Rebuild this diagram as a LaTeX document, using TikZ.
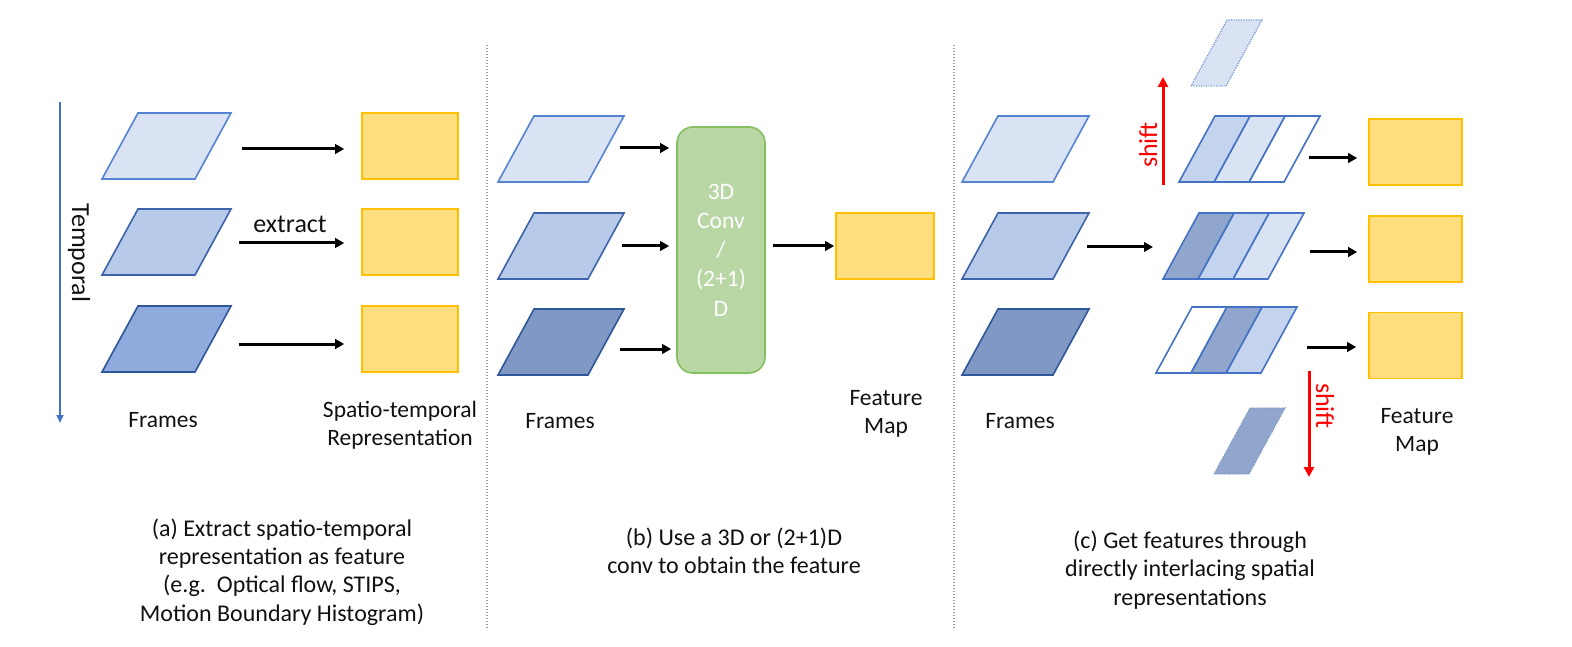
\documentclass[tikz,border=0pt]{standalone}
\usepackage{fontspec}
\setmainfont{Carlito}
\usetikzlibrary{arrows.meta,calc}
\definecolor{fLfill}{HTML}{DAE3F3}
\definecolor{fLdraw}{HTML}{5585D2}
\definecolor{fMfill}{HTML}{B8CAE9}
\definecolor{fMdraw}{HTML}{3E63AA}
\definecolor{fDafill}{HTML}{8FAADC}
\definecolor{fDbfill}{HTML}{8099C4}
\definecolor{fDdraw}{HTML}{30569A}
\definecolor{sMfill}{HTML}{C5D4EE}
\definecolor{sDfill}{HTML}{91A6CC}
\definecolor{sdraw}{HTML}{4472C4}
\definecolor{ghostL}{HTML}{7497D6}
\definecolor{ghostD}{HTML}{7F98C6}
\definecolor{yfill}{HTML}{FFDE80}
\definecolor{ydraw}{HTML}{FFC000}
\definecolor{gfill}{HTML}{B9D6A5}
\definecolor{gdraw}{HTML}{84BE5E}
\definecolor{tblue}{HTML}{4472C4}
\definecolor{sepgray}{HTML}{9A9A9A}
\definecolor{txt}{HTML}{111111}
\newcommand\pgm[5][]{%
  \draw[#1] (#3,#4+66) -- ++(#5,0) -- ++(36,-66) -- ++(-#5,0) -- cycle;
  \node[anchorbox, minimum width=#5+36, minimum height=66] (#2) at (#3+18+#5/2,#4+33) {};
}
\newcommand\stripe[3][]{%
  \draw[#1] (#2,#3+66) -- ++(35,0) -- ++(36,-66) -- ++(-35,0) -- cycle;
}
\begin{document}
\begin{tikzpicture}[x=1pt,y=-1pt,
  anchorbox/.style={inner sep=0pt, outer sep=0pt},
  frameL/.style={fill=fLfill, draw=fLdraw, line width=1.6pt, line join=miter},
  frameM/.style={fill=fMfill, draw=fMdraw, line width=1.6pt},
  frameDa/.style={fill=fDafill, draw=fDdraw, line width=1.6pt},
  frameDb/.style={fill=fDbfill, draw=fDdraw, line width=1.6pt},
  stripW/.style={fill=white, draw=sdraw, line width=1.6pt},
  stripL/.style={fill=fLfill, draw=sdraw, line width=1.6pt},
  stripM/.style={fill=sMfill, draw=sdraw, line width=1.6pt},
  stripD/.style={fill=sDfill, draw=sdraw, line width=1.6pt},
  ghostLight/.style={fill=fLfill, draw=ghostL, line width=1.3pt, dash pattern=on 1.2pt off 1.3pt},
  ghostDark/.style={fill=sDfill, draw=ghostD, line width=1.3pt, dash pattern=on 1.2pt off 1.3pt},
  ybox/.style={fill=yfill, draw=ydraw, line width=1.6pt, minimum height=66pt, inner sep=0pt},
  convbox/.style={fill=gfill, draw=gdraw, line width=1.6pt, rounded corners=16pt,
     minimum width=88pt, minimum height=246pt, inner sep=0pt, align=center,
     text=white, font=\fontsize{23.6}{29.2}\selectfont},
  arr/.style={line width=3pt, draw=black, -{Triangle[length=9pt,width=9.5pt]}},
  redarr/.style={line width=3pt, draw=red, -{Triangle[length=10pt,width=10pt]}},
  tarr/.style={line width=2pt, draw=tblue, -{Triangle[length=8pt,width=7pt]}},
  sep/.style={line width=1.3pt, draw=sepgray, dash pattern=on 1.3pt off 1.7pt},
  lbl/.style={text=txt, inner sep=0pt, font=\fontsize{23.5}{28}\selectfont},
  captxt/.style={text=txt, inner sep=0pt, align=center, font=\fontsize{24}{28.3}\selectfont},
  big/.style={inner sep=0pt, font=\fontsize{26}{30}\selectfont},
]
\useasboundingbox (0,0) rectangle (1572,647);

% separators
\coordinate (s1t) at (487,45); \coordinate (s1b) at (487,630);
\coordinate (s2t) at (954,45); \coordinate (s2b) at (954,630);
\draw[sep] (s1t) -- (s1b);
\draw[sep] (s2t) -- (s2b);

% ---------------- (a) ----------------
\coordinate (t1) at (60,102); \coordinate (t2) at (60,423);
\draw[tarr] (t1) -- (t2);
\node[big, text=txt, rotate=-90, anchor=base] (temporal) at (72,253) {Temporal};

\pgm[frameL]{fa1}{102}{113}{93}
\pgm[frameM]{fa2}{102}{209}{93}
\pgm[frameDa]{fa3}{102}{306}{93}

\node[ybox, minimum width=96pt] (ya1) at (410,146) {};
\node[ybox, minimum width=96pt] (ya2) at (410,242) {};
\node[ybox, minimum width=96pt] (ya3) at (410,339) {};

\coordinate (a1s) at ([xshift=11pt,yshift=-3pt]fa1.east);
\coordinate (a2s) at ([xshift=8pt,yshift=-1pt]fa2.east);
\coordinate (a3s) at ([xshift=8pt,yshift=-5pt]fa3.east);
\draw[arr, shorten >=17pt] (a1s) -- (a1s -| ya1.west);
\draw[arr, shorten >=17pt] (a2s) -- (a2s -| ya2.west);
\draw[arr, shorten >=17pt] (a3s) -- (a3s -| ya3.west);

\node[big, text=txt, anchor=base] (extract) at (290,233) {extract};
\node[lbl, anchor=base] (framesA) at (163,427) {Frames};
\node[lbl, align=center] (strep) at (400,425) {Spatio-temporal\\Representation};

\node[captxt] (capA) at (282,572) {(a) Extract spatio-temporal\\representation as feature\\(e.g.\ \ Optical flow, STIPS,\\Motion Boundary Histogram)};

% ---------------- (b) ----------------
\pgm[frameL]{fb1}{498}{116}{90}
\pgm[frameM]{fb2}{498}{213}{90}
\pgm[frameDb]{fb3}{498}{309}{90}

\node[convbox] (conv) at (721,250) {3D\\Conv\\/\\(2+1)\\D};
\node[ybox, minimum width=98pt] (yb) at (885,246) {};

\coordinate (b1s) at ([xshift=-4pt,yshift=1pt]fb1.east);
\coordinate (b2s) at ([xshift=-2pt]fb2.east);
\coordinate (b3s) at ([xshift=-4pt,yshift=-7pt]fb3.east);
\draw[arr, shorten >=7pt] (b1s) -- (b1s -| conv.west);
\draw[arr, shorten >=7pt] (b2s) -- (b2s -| conv.west);
\draw[arr, shorten >=5pt] (b3s) -- (b3s -| conv.west);
\coordinate (bcs) at ([xshift=7pt]conv.east |- yb.west);
\draw[arr, shorten >=1pt] (bcs) -- (yb.west);

\node[lbl, anchor=base] (framesB) at (560,428) {Frames};
\node[lbl, align=center] (fmapB) at (886,414) {Feature\\Map};

\node[captxt] (capB) at (734,551) {(b) Use a 3D or (2+1)D\\conv to obtain the feature};

% ---------------- (c) ----------------
\pgm[frameL]{fc1}{962}{116}{91}
\pgm[frameM]{fc2}{962}{213}{91}
\pgm[frameDb]{fc3}{962}{309}{91}

% ghosts
\stripe[ghostLight]{1191}{20}
\stripe[ghostDark]{1214}{408}

% top row
\stripe[stripW]{1249}{116}
\stripe[stripL]{1214}{116}
\stripe[stripM]{1179}{116}
\node[anchorbox, minimum width=141pt, minimum height=66pt] (st) at (1249.5,149) {};
% middle row
\stripe[stripL]{1233}{213}
\stripe[stripM]{1198}{213}
\stripe[stripD]{1163}{213}
\node[anchorbox, minimum width=141pt, minimum height=66pt] (sm) at (1233.5,246) {};
% bottom row
\stripe[stripW]{1156}{307}
\stripe[stripM]{1226}{307}
\stripe[stripD]{1191}{307}
\node[anchorbox, minimum width=141pt, minimum height=66pt] (sb) at (1226.5,340) {};

\node[ybox, minimum width=93pt] (yc1) at (1415.5,152) {};
\node[ybox, minimum width=93pt] (yc2) at (1415.5,249) {};
\node[ybox, minimum width=93pt] (yc3) at (1415.5,345.5) {};

\coordinate (c0s) at ([xshift=-2pt,yshift=-1pt]fc2.east);
\draw[arr, shorten >=10pt] (c0s) -- (c0s -| sm.west);
\coordinate (c1s) at ([xshift=-11pt,yshift=-9pt]st.east);
\coordinate (c2s) at ([xshift=6pt,yshift=-6pt]sm.east);
\coordinate (c3s) at ([xshift=10pt,yshift=-7pt]sb.east);
\draw[arr, shorten >=11pt] (c1s) -- (c1s -| yc1.west);
\draw[arr, shorten >=11pt] (c2s) -- (c2s -| yc2.west);
\draw[arr, shorten >=12pt] (c3s) -- (c3s -| yc3.west);

% shift arrows
\coordinate (u1) at (1163,185); \coordinate (u2) at (1163,77);
\draw[redarr] (u1) -- (u2);
\node[big, text=red, rotate=90, anchor=base] (shiftU) at (1157,145) {shift};
\coordinate (d1) at (1309,371); \coordinate (d2) at (1309,477);
\draw[redarr] (d1) -- (d2);
\node[big, text=red, rotate=-90, anchor=base] (shiftD) at (1316,406) {shift};

\node[lbl, anchor=base] (framesC) at (1020,428) {Frames};
\node[lbl, align=center] (fmapC) at (1417,432) {Feature\\Map};

\node[captxt] (capC) at (1190,570) {(c) Get features through\\directly interlacing spatial\\representations};
\end{tikzpicture}
\end{document}
